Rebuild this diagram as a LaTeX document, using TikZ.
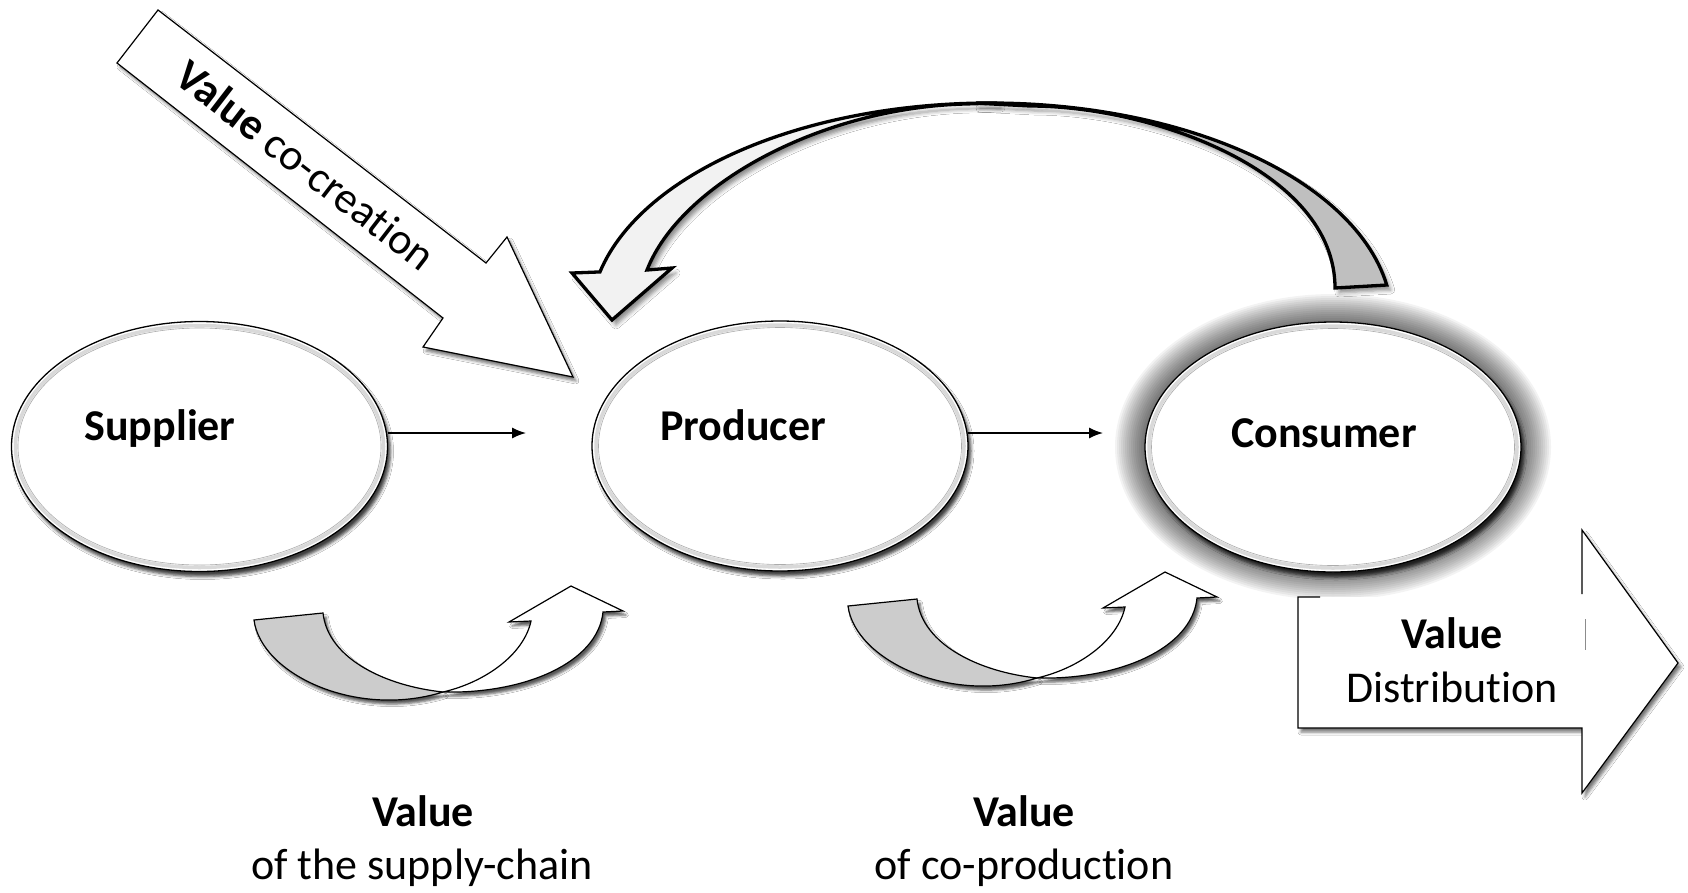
\documentclass[tikz,border=0pt]{standalone}
\usepackage{fontspec}
\setmainfont{Carlito}[Ligatures={NoCommon,NoContextual},Contextuals={NoAlternate}]
\usetikzlibrary{shapes.geometric,arrows.meta,shadows.blur}
\begin{document}
\begin{tikzpicture}[x=1pt,y=-1pt,
  txt/.style={font=\fontsize{44}{52}\selectfont, inner sep=0pt, anchor=base},
  btxt/.style={txt, font=\fontsize{44}{52}\selectfont\bfseries},
  ell/.style={ellipse, minimum width=376pt, minimum height=250pt, inner sep=0pt, outer sep=0pt,
    fill=white, draw=black, line width=1.3pt,
    blur shadow={shadow xshift=3pt, shadow yshift=-5pt, shadow blur radius=3pt, shadow opacity=75}},
  ringA/.style={gray!30, line width=3.5pt},
  ringB/.style={gray!65, line width=0.6pt},
  conn/.style={line width=1.4pt, -{Latex[length=14pt,width=11pt]}},
  blockarrow/.style={fill=white, draw=black, line width=1.2pt, line join=miter,
    blur shadow={shadow xshift=3pt, shadow yshift=-4pt, shadow blur radius=3pt, shadow opacity=55}},
  bigD/.style={fill=black!25, draw=black, line width=3.3pt, line join=miter,
    blur shadow={shadow xshift=4pt, shadow yshift=-5pt, shadow blur radius=4pt, shadow opacity=45}},
  bigL/.style={bigD, fill=black!5},
  smgray/.style={fill=black!20, draw=black, line width=1.2pt,
    blur shadow={shadow xshift=3pt, shadow yshift=-4pt, shadow blur radius=2.5pt, shadow opacity=65}},
  smwhite/.style={smgray, fill=white},
  smarrow/.pic={
    \path[smgray] (848,606) -- (917,599) .. controls (922,645) and (980,672) .. (1037,678)
       .. controls (950,705) and (855,660) .. (848,606) -- cycle;
    \path[smwhite] (1037,678) .. controls (1120,680) and (1192,648) .. (1197,598) -- (1217,597)
       -- (1165,572) -- (1103,608) -- (1125,607) .. controls (1118,640) and (1080,668) .. (1037,678) -- cycle;
  }
]
\useasboundingbox (0,0) rectangle (1688,892);
\fill[white] (0,0) rectangle (1688,892);

% halo of the consumer
\coordinate (conc) at (1333,447);
\foreach \i in {1,...,15} {
  \fill[black, opacity=0.048] (conc) ellipse [x radius={188+2*\i}, y radius={123+2*\i}];
}

% ellipses
\node[ell] (sup) at (199.5,446.5) {};
\node[ell] (pro) at (780,446) {};
\node[ell] (con) at (conc) {};
\foreach \n in {sup,pro,con} {
  \draw[ringA] (\n.center) ellipse [x radius=184, y radius=121];
  \draw[ringB] (\n.center) ellipse [x radius=181.5, y radius=118.5];
}
\node[btxt] (supT) at (160,440) {Supplier};
\node[btxt] (proT) at (743,440) {Producer};
\node[btxt] (conT) at (1324,447) {Consumer};

% straight connectors
\coordinate (e1) at (526,433);
\coordinate (e2) at (1103,433);
\draw[conn] (sup.east |- e1) -- (e1);
\draw[conn] (pro.east |- e2) -- (e2);

% value co-creation arrow
\path[blockarrow] (158,10) -- (486,263) -- (507,237) -- (573,377) -- (423,347) -- (443,318) -- (117,63) -- cycle;
\node[txt, anchor=center, rotate=-37.65] (cocr) at (306,165) {\textbf{Value} co-creation};

% big curved arrow (consumer back to producer)
\path[bigD] (1335,288) .. controls (1335,170) and (1150,106) .. (1030,106)
   -- plot[domain=0:82.72, samples=60] ({990+402*cos(92-\x)},{320-217*sin(92-\x)}) -- cycle;
\path[bigL] plot[domain=89:167.2, samples=60] ({990+400*cos(\x)},{320-217*sin(\x)})
   -- (572,273) -- (612,320) -- (672,268) -- (647,270)
   .. controls (680,185) and (820,108) .. (965,104) -- cycle;

% small curved arrows
\pic at (-594,14) {smarrow};
\pic at (0,0) {smarrow};

% value distribution arrow
\path[fill=white, blur shadow={shadow xshift=3pt, shadow yshift=-4pt, shadow blur radius=3pt, shadow opacity=55}]
  (1298,597) -- (1582,597) -- (1582,530) -- (1678,663) -- (1582,793) -- (1582,728) -- (1298,728) -- cycle;
\draw[black, line width=1.2pt, line join=miter] (1320,597) -- (1298,597) -- (1298,728) -- (1582,728)
  -- (1582,793) -- (1678,663) -- (1582,530) -- (1582,594);
\draw[black!45, line width=1pt] (1585,619) -- (1585,650);
\node[btxt] (vdA) at (1452,648) {Value};
\node[txt] (vdB) at (1452,702) {Distribution};

% bottom labels
\node[btxt] (v1) at (423,826) {Value};
\node[txt] (v1b) at (422,879) {of the supply-chain};
\node[btxt] (v2) at (1024,826) {Value};
\node[txt] (v2b) at (1024,879) {of co-production};
\end{tikzpicture}
\end{document}
